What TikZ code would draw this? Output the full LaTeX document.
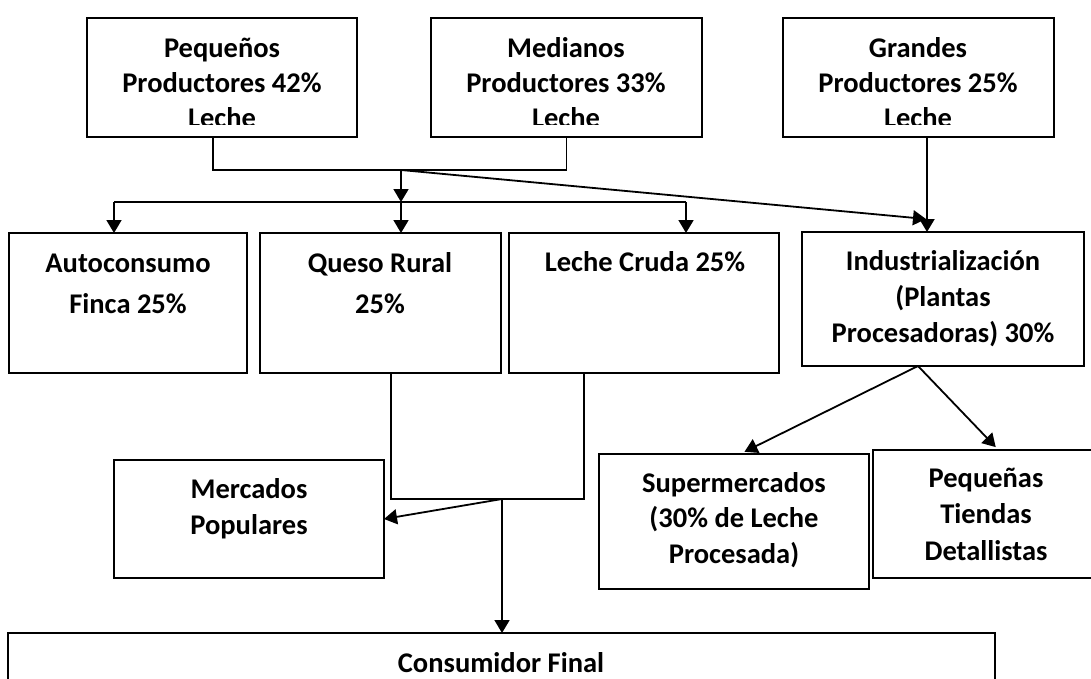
\documentclass[tikz,border=0pt]{standalone}
\usepackage{fontspec}
\setmainfont{Carlito}
\usetikzlibrary{arrows.meta,calc}
\begin{document}
\begin{tikzpicture}[x=1pt,y=-1pt,
  box/.style={draw, line width=2.2pt, inner sep=0pt, outer sep=0pt, anchor=north west},
  lbl/.style={font=\bfseries\fontsize{28.5}{#1}\selectfont, align=center, inner sep=0pt, anchor=north},
  conn/.style={line width=1.8pt},
  arr/.style={conn, -{Triangle[length=13pt,width=15pt]}}]
\clip (0,0) rectangle (1091,679);
\fill[white] (0,0) rectangle (1091,679);

% producers
\node[box, minimum width=270pt, minimum height=119pt] (peq) at (87,18) {};
\node[box, minimum width=271pt, minimum height=119pt] (med) at (431,18) {};
\node[box, minimum width=271pt, minimum height=119pt] (gra) at (783,18) {};
\begin{scope}
  % the last line of each producer box is cut by the box's inner margin
  \clip (0,0) rectangle (1091,125);
  \node[lbl=35] (tpeq) at (222,33) {\strut Pequeños\\Productores 42\%\\Leche};
  \node[lbl=35] (tmed) at (566,33) {\strut Medianos\\Productores 33\%\\Leche};
  \node[lbl=35] (tgra) at (918,33) {\strut Grandes\\Productores 25\%\\Leche};
\end{scope}

% first destinations
\node[box, minimum width=238pt, minimum height=140pt] (auto) at (9,233) {};
\node[box, minimum width=241pt, minimum height=140pt] (queso) at (260,233) {};
\node[box, minimum width=270pt, minimum height=140pt] (cruda) at (509,233) {};
\node[box, minimum width=282pt, minimum height=134pt] (ind) at (802,232) {};
\node[lbl=41] (tauto) at (128,243.3) {\strut Autoconsumo\\Finca 25\%};
\node[lbl=41] (tqueso) at (380,243.3) {\strut Queso Rural\\25\%};
\node[lbl=41] (tcruda) at (645,242.3) {\strut Leche Cruda 25\%};
\node[lbl=36] (tind) at (943,244.8) {\strut Industrialización\\(Plantas\\Procesadoras) 30\%};

% retail
\node[box, minimum width=270pt, minimum height=118pt] (merc) at (114,460) {};
\node[box, minimum width=270pt, minimum height=135pt] (super) at (599,454) {};
\node[box, minimum width=227pt, minimum height=128pt] (tiendas) at (873,450) {};
\node[lbl=36] (tmerc) at (249,472.8) {\strut Mercados\\Populares};
\node[lbl=35.5] (tsuper) at (734,467.2) {\strut Supermercados\\(30\% de Leche\\Procesada)};
\node[lbl=36.5] (ttiendas) at (986,461.5) {\strut Pequeñas\\Tiendas\\Detallistas};

% final consumer
\node[box, minimum width=987pt, minimum height=100pt] (cons) at (8,633) {};
\node[lbl=35] (tcons) at (501,647.5) {\strut Consumidor Final};

% junction points
\coordinate (jtop) at (401,170);
\coordinate (bA) at (114,202);
\coordinate (bQ) at (401,202);
\coordinate (bC) at (686,202);
\coordinate (indtip) at (926,219);
\coordinate (gdrop) at (927,137);
\coordinate (qd) at (391,499);
\coordinate (cd) at (584,499);
\coordinate (mj) at (502,499);
\coordinate (ij) at (918,366);

% producers to the first destinations
\draw[conn] ([xshift=-9pt]peq.south) |- (med.south |- jtop) -- (med.south);
\draw[arr] (jtop) -- (bQ);
\draw[conn] (bA) -- (bC);
\draw[arr] (bA) -- (bA |- auto.north);
\draw[arr] (bQ) -- (bQ |- queso.north);
\draw[arr] (bC) -- (bC |- cruda.north);
\draw[arr] (jtop) -- (indtip);
\draw[arr] (gdrop) -- (gdrop |- ind.north);

% cheese and raw milk to markets and consumer
\draw[conn] (qd |- queso.south) -- (qd) -- (cd) -- (cd |- cruda.south);
\draw[arr] (mj) -- (merc.east);
\draw[arr] (mj) -- (mj |- cons.north);

% industry to retail
\draw[arr, shorten >=5pt] (ij) -- ([xshift=6pt]super.north);
\draw[arr, shorten >=4pt] (ij) -- ([xshift=12pt]tiendas.north);
\end{tikzpicture}
\end{document}
